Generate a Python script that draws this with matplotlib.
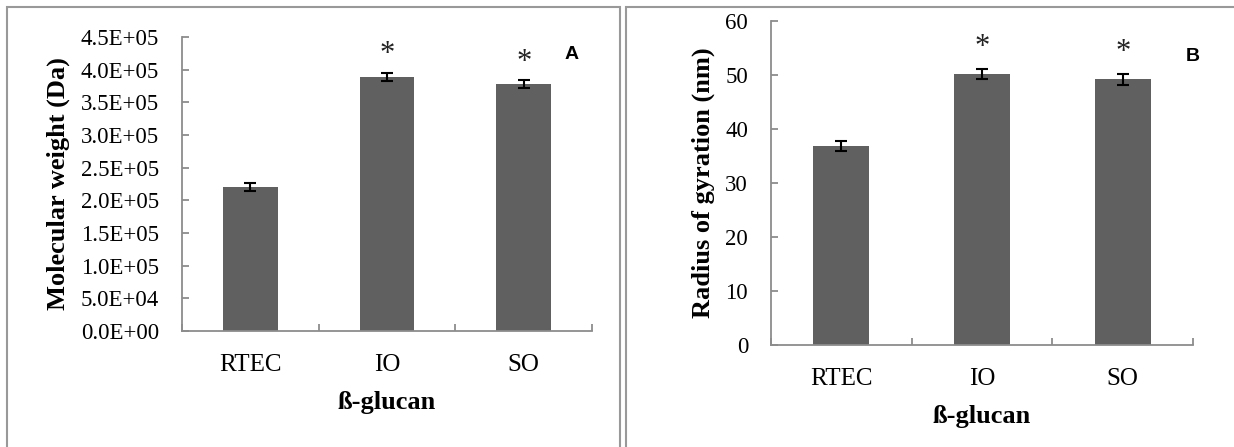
import matplotlib.pyplot as plt
from matplotlib.patches import Rectangle
from matplotlib.ticker import FuncFormatter

# beta-glucan samples
samples = ['RTEC', 'IO', 'SO']

# Panel A: molecular weight (Da)
mw_mean = [2.205e5, 3.888e5, 3.776e5]
mw_err = [6.0e3, 6.0e3, 6.0e3]

# Panel B: radius of gyration (nm)
rg_mean = [36.85, 50.2, 49.2]
rg_err = [0.9, 1.0, 1.0]

# which bars get a significance star
significant = [False, True, True]

W, H = 1234, 447
fig = plt.figure(figsize=(W / 100, H / 100), dpi=100)
plt.rcParams['font.family'] = 'Liberation Serif'

bar_color = '#606060'
axis_color = '#8c8c8c'


def px_axes(x0, y0, x1, y1):
    # pixel box (top-left origin) -> figure fraction axes
    return fig.add_axes([x0 / W, 1 - y1 / H, (x1 - x0) / W, (y1 - y0) / H])


def draw_panel(ax, means, errs, ymax, ystep, fmt, ylabel, letter, letter_pos,
               star_pad, ylabel_x, xlabel_y):
    x = range(len(samples))
    ax.bar(x, means, width=0.4, color=bar_color, zorder=2)
    ax.errorbar(x, means, yerr=errs, fmt='none', ecolor='black',
                elinewidth=1.5, capsize=4.6, capthick=1.5, zorder=3)
    for i, (m, e, s) in enumerate(zip(means, errs, significant)):
        if s:
            ax.text(i, m + e + star_pad, '*', ha='center', va='center',
                    fontsize=22, color='#222222')

    ax.set_xlim(-0.5, len(samples) - 0.5)
    ax.set_ylim(0, ymax)
    ax.set_yticks([ystep * k for k in range(int(round(ymax / ystep)) + 1)])
    ax.yaxis.set_major_formatter(FuncFormatter(fmt))
    ax.set_xticks(list(x))
    ax.set_xticklabels(samples)
    ax.set_xticks([i - 0.5 for i in range(len(samples) + 1)], minor=True)

    for side in ['top', 'right']:
        ax.spines[side].set_visible(False)
    for side in ['left', 'bottom']:
        ax.spines[side].set_color(axis_color)
        ax.spines[side].set_linewidth(1.3)

    ax.tick_params(axis='x', which='major', length=0, pad=16.5, labelsize=18)
    ax.tick_params(axis='x', which='minor', direction='in', length=5,
                   width=1.3, color=axis_color)
    ax.tick_params(axis='y', direction='in', length=5, width=1.3,
                   color=axis_color, pad=16.5, labelsize=16.5)

    ax.set_ylabel(ylabel, fontsize=19, fontweight='bold')
    ax.yaxis.set_label_coords(ylabel_x, 0.5)
    ax.yaxis.label.set_va('center')
    ax.set_xlabel('ß-glucan', fontsize=19, fontweight='bold')
    ax.xaxis.set_label_coords(0.5, xlabel_y)
    ax.xaxis.label.set_va('center')

    ax.text(letter_pos[0], letter_pos[1], letter, transform=ax.transAxes,
            ha='center', va='center', fontsize=14, fontweight='bold',
            family='Liberation Sans')


# panel frames
fig.add_artist(Rectangle((7 / W, -0.02), (619.5 - 7) / W, 1 - 7 / H + 0.02,
                         transform=fig.transFigure, fill=False,
                         edgecolor='#999999', linewidth=1.5))
fig.add_artist(Rectangle((626 / W, -0.02), (1240 - 626) / W, 1 - 7 / H + 0.02,
                         transform=fig.transFigure, fill=False,
                         edgecolor='#999999', linewidth=1.5))

axA = px_axes(182, 37, 592, 331)
draw_panel(axA, mw_mean, mw_err, 4.5e5, 0.5e5,
           lambda v, p: f'{v:.1E}', 'Molecular weight (Da)', 'A',
           (0.951, 0.942), 2.8e4, -0.302, -0.2415)

axB = px_axes(771, 21, 1193, 345)
draw_panel(axB, rg_mean, rg_err, 60, 10,
           lambda v, p: f'{v:.0f}', 'Radius of gyration (nm)', 'B',
           (1.0, 0.889), 3.9, -0.161, -0.222)

fig.savefig('out.png', dpi=100)
